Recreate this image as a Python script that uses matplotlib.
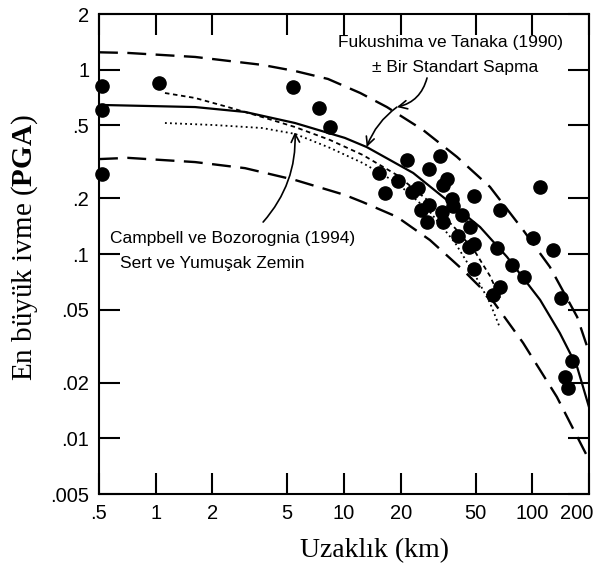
import matplotlib
matplotlib.use('Agg')
import matplotlib.pyplot as plt
from matplotlib.ticker import FixedLocator, FixedFormatter, NullLocator
from matplotlib.transforms import ScaledTranslation

plt.rcParams['font.family'] = ['Liberation Sans', 'DejaVu Sans']
plt.rcParams['mathtext.fontset'] = 'custom'
plt.rcParams['mathtext.rm'] = 'Liberation Serif'
plt.rcParams['mathtext.bf'] = 'Liberation Serif:bold'

# --- observed peak ground accelerations (g) vs distance (km) ---
obs_dist = [0.52, 0.52, 0.52, 1.04, 5.36, 7.37, 8.43, 21.6, 32.4, 28.3,
            35.2, 33.6, 15.3, 19.4, 24.7, 23.0, 16.5, 37.5, 37.9, 49.0,
            28.3, 25.6, 33.2, 42.4, 27.6, 33.6, 46.7, 40.3, 49.0, 46.1,
            67.4, 65.0, 78.0, 90.3, 49.0, 67.4, 61.8, 110, 101, 129,
            142, 163, 149, 155]
obs_pga = [0.815, 0.604, 0.272, 0.845, 0.804, 0.619, 0.488, 0.323, 0.340, 0.289,
           0.255, 0.237, 0.275, 0.249, 0.228, 0.217, 0.214, 0.199, 0.182, 0.206,
           0.185, 0.173, 0.169, 0.163, 0.149, 0.149, 0.140, 0.125, 0.113, 0.109,
           0.173, 0.108, 0.0873, 0.0751, 0.0830, 0.0663, 0.0600, 0.231, 0.122, 0.105,
           0.0578, 0.0263, 0.0216, 0.0188]

# --- Fukushima & Tanaka (1990), median ---
ft_dist = [0.5, 0.933, 1.62, 2.98, 5.49, 10.1, 13.2, 23.3, 35.2, 52.8,
           73.4, 110, 140, 173, 200]
ft_med = [0.643, 0.634, 0.626, 0.589, 0.513, 0.426, 0.380, 0.275, 0.196, 0.140,
          0.0964, 0.0564, 0.0373, 0.0244, 0.0148]

# --- Fukushima & Tanaka (1990), +1 sigma ---
ft_up_dist = [0.5, 0.713, 1.62, 3.67, 5.49, 8.22, 12.2, 16.9, 26.3, 39.8,
              59.6, 89.3, 124, 173, 200]
ft_up = [1.24, 1.23, 1.17, 1.06, 0.982, 0.889, 0.746, 0.626, 0.470, 0.336,
         0.231, 0.135, 0.0851, 0.0456, 0.0294]

# --- Fukushima & Tanaka (1990), -1 sigma ---
ft_lo_dist = [0.5, 0.713, 1.62, 2.98, 5.49, 10.1, 12.6, 19.1, 28.6, 42.9,
              59.6, 89.3, 135, 200]
ft_lo = [0.327, 0.332, 0.315, 0.292, 0.252, 0.209, 0.191, 0.159, 0.119, 0.0818,
         0.0585, 0.0330, 0.0168, 0.00766]

# --- Campbell & Bozorgnia (1994), two site classes ---
cb_dist = [1.12, 1.62, 2.42, 3.67, 5.49, 8.43, 12.6, 19.1, 28.6, 38.9,
           49.6, 59.6, 67.4]
cb_a = [0.746, 0.701, 0.626, 0.553, 0.488, 0.415, 0.344, 0.268, 0.191, 0.138,
        0.103, 0.076, 0.0578]
cb_b_dist = [1.12, 2.06, 3.67, 5.49, 8.43, 12.6, 19.1, 28.6, 38.9, 49.6,
             59.6, 67.4]
cb_b = [0.513, 0.500, 0.482, 0.448, 0.376, 0.311, 0.243, 0.169, 0.115, 0.0769,
        0.0543, 0.0397]

x_ticks = [0.5, 1, 2, 5, 10, 20, 50, 100, 200]
x_labels = ['.5', '1', '2', '5', '10', '20', '50', '100', '200']
y_ticks = [0.005, 0.01, 0.02, 0.05, 0.1, 0.2, 0.5, 1, 2]
y_labels = ['.005', '.01', '.02', '.05', '.1', '.2', '.5', '1', '2']

fig = plt.figure(figsize=(5.99, 5.69), dpi=100)
ax = fig.add_axes([99 / 599, 75 / 569, 490 / 599, 480 / 569])
ax.set_xscale('log')
ax.set_yscale('log')
ax.set_xlim(0.5, 200)
ax.set_ylim(0.005, 2)

ax.plot(ft_dist, ft_med, color='black', lw=1.6)
ax.plot(ft_up_dist, ft_up, color='black', lw=1.7, dashes=(8, 4))
ax.plot(ft_lo_dist, ft_lo, color='black', lw=1.7, dashes=(8, 4))
ax.plot(cb_dist, cb_a, color='black', lw=1.3, dashes=(2.5, 2))
ax.plot(cb_b_dist, cb_b, color='black', lw=1.3, dashes=(1, 1.8))
ax.plot(obs_dist, obs_pga, 'o', color='black', ms=9.5, clip_on=False, zorder=5)

# annotations
ax.text(36.6, 1.41, 'Fukushima ve Tanaka (1990)', ha='center', va='center', fontsize=12.5)
ax.text(38.9, 1.03, '± Bir Standart Sapma', ha='center', va='center', fontsize=12.5)
arrow = dict(arrowstyle='->,head_length=0.6,head_width=0.3', color='black', lw=1.2)
ax.annotate('', xy=(19.1, 0.626), xytext=(27.6, 0.90),
            arrowprops=dict(arrow, connectionstyle='arc3,rad=-0.3', shrinkA=0, shrinkB=0))
ax.annotate('', xy=(13.2, 0.38), xytext=(19.1, 0.626),
            arrowprops=dict(arrow, connectionstyle='arc3,rad=0.15', shrinkA=0, shrinkB=0))

ax.text(0.572, 0.122, 'Campbell ve Bozorognia (1994)', ha='left', va='center', fontsize=12.5)
ax.text(0.647, 0.0893, 'Sert ve Yumuşak Zemin', ha='left', va='center', fontsize=12.5)
ax.annotate('', xy=(5.49, 0.458), xytext=(3.72, 0.149),
            arrowprops=dict(arrow, connectionstyle='arc3,rad=0.2', shrinkA=0, shrinkB=0))

# axes styling
ax.xaxis.set_major_locator(FixedLocator(x_ticks))
ax.xaxis.set_major_formatter(FixedFormatter(x_labels))
ax.xaxis.set_minor_locator(NullLocator())
ax.yaxis.set_major_locator(FixedLocator(y_ticks))
ax.yaxis.set_major_formatter(FixedFormatter(y_labels))
ax.yaxis.set_minor_locator(NullLocator())
ax.tick_params(which='major', direction='in', length=15, width=1.5,
               top=True, right=True, labelsize=14.5, pad=7)
for s in ax.spines.values():
    s.set_linewidth(1.5)

# keep the last x label inside the picture
last = ax.get_xticklabels()[-1]
last.set_transform(last.get_transform() + ScaledTranslation(-9 / 72, 0, fig.dpi_scale_trans))

ax.set_xlabel('Uzaklık (km)', fontsize=20, family='Liberation Serif', va='center')
ax.xaxis.set_label_coords(0.563, -0.117)
ax.set_ylabel(r'En büyük ivme ($\mathbf{PGA}$)', fontsize=21,
              family='Liberation Serif', va='center')
ax.yaxis.set_label_coords(-0.151, 0.5125)

fig.savefig('out.png', dpi=100)
